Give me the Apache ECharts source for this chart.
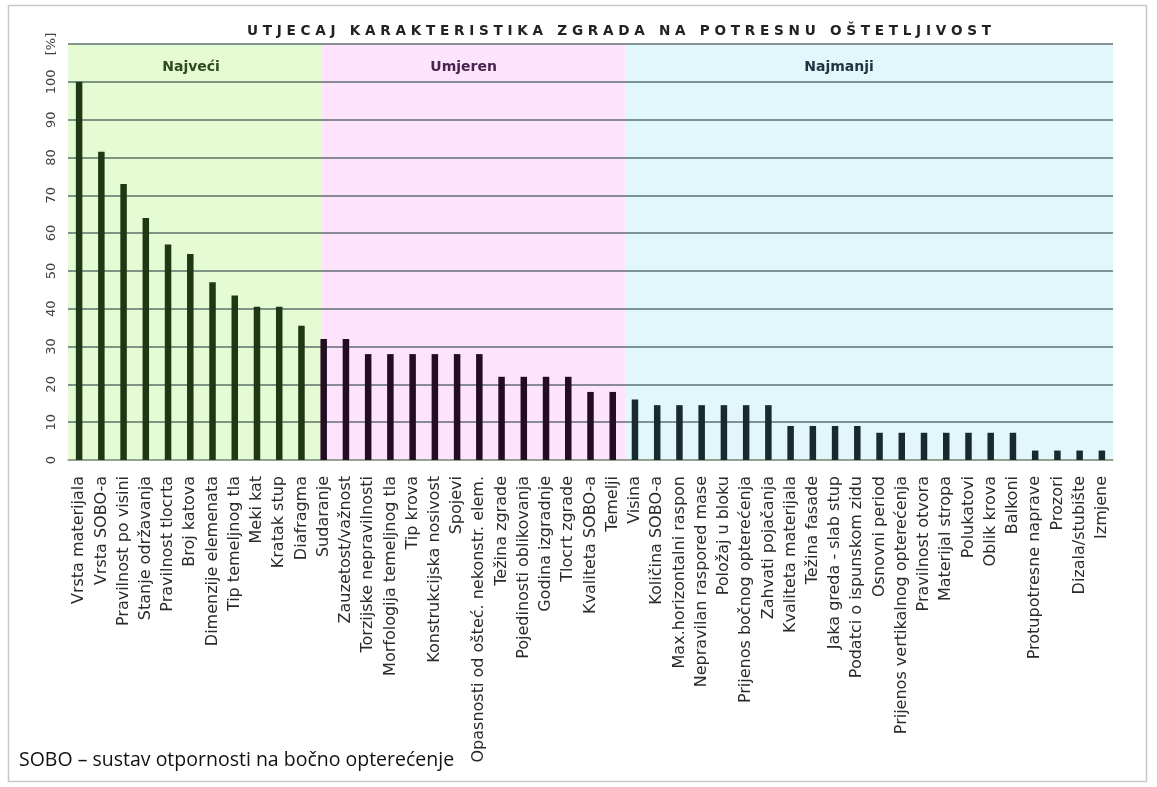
<!DOCTYPE html>
<html>
<head>
<meta charset="utf-8">
<script src="https://cdn.jsdelivr.net/npm/echarts@6/dist/echarts.min.js"></script>
<style>
  html, body { margin: 0; padding: 0; background: #fff; }
  #container { width: 1157px; height: 787px; }
</style>
</head>
<body>
<div id="container"></div>
<script>
//初始化echarts
var dom = document.getElementById('container');
var myChart = echarts.init(dom, null, { renderer: 'canvas' });

//标题和数据
var myTitle = 'UTJECAJ KARAKTERISTIKA ZGRADA NA POTRESNU OŠTETLJIVOST';
var footNote = 'SOBO – sustav otpornosti na bočno opterećenje';

var categories = [
  'Vrsta materijala', 'Vrsta SOBO-a', 'Pravilnost po visini', 'Stanje održavanja',
  'Pravilnost tlocrta', 'Broj katova', 'Dimenzije elemenata', 'Tip temeljnog tla',
  'Meki kat', 'Kratak stup', 'Diafragma', 'Sudaranje',
  'Zauzetost/važnost', 'Torzijske nepravilnosti', 'Morfologija temeljnog tla', 'Tip krova',
  'Konstrukcijska nosivost', 'Spojevi', 'Opasnosti od ošteć. nekonstr. elem.', 'Težina zgrade',
  'Pojedinosti oblikovanja', 'Godina izgradnje', 'Tlocrt zgrade', 'Kvaliteta SOBO-a', 'Temelji',
  'Visina', 'Količina SOBO-a', 'Max.horizontalni raspon', 'Nepravilan raspored mase',
  'Položaj u bloku', 'Prijenos bočnog opterećenja', 'Zahvati pojačanja', 'Kvaliteta materijala',
  'Težina fasade', 'Jaka greda - slab stup', 'Podatci o ispunskom zidu', 'Osnovni period',
  'Prijenos vertikalnog opterećenja', 'Pravilnost otvora', 'Materijal stropa', 'Polukatovi',
  'Oblik krova', 'Balkoni', 'Protupotresne naprave', 'Prozori', 'Dizala/stubište', 'Izmjene'
];

var values = [
  100, 81.5, 73, 64, 57, 54.5, 47, 43.5, 40.5, 40.5, 35.5, 32,
  32, 28, 28, 28, 28, 28, 28, 22, 22, 22, 22, 18, 18,
  16, 14.5, 14.5, 14.5, 14.5, 14.5, 14.5, 9, 9, 9, 9, 7.2,
  7.2, 7.2, 7.2, 7.2, 7.2, 7.2, 2.5, 2.5, 2.5, 2.5
];

//三个区域
var bandNames = ['Najveći', 'Umjeren', 'Najmanji'];
var bandEdges = [0, 11.43, 25.06, 47];
var groupEnds = [11, 25, 47]; //每组柱子的结束索引

var yTicks = [0, 10, 20, 30, 40, 50, 60, 70, 80, 90, 100, '[%]'];

var bandColors = ['#e4fbd4', '#fde3fb', '#e2f7fc'];
var bandTextColors = ['#2f4a1c', '#4a2350', '#1d3440'];
var bandLabelShift = [[-4, 0], [-10, 0], [-30, 0]];
var barColors = ['#1e3812', '#230c24', '#182a2e'];

function groupOf(i) {
  for (var g = 0; g < groupEnds.length; g++) {
    if (i < groupEnds[g]) return g;
  }
  return groupEnds.length - 1;
}

function spaced(s) {
  return s.split(' ').map(function (w) { return w.split('').join(' '); }).join('   ');
}

var bandData = bandNames.map(function (name, i) {
  return [
    {
      name: name,
      xAxis: bandEdges[i],
      itemStyle: { color: bandColors[i] },
      label: { color: bandTextColors[i], offset: bandLabelShift[i] }
    },
    { xAxis: bandEdges[i + 1] }
  ];
});

var option = {
  animation: false,
  title: {
    text: spaced(myTitle),
    left: 614,
    textAlign: 'center',
    top: 19,
    textStyle: { fontFamily: 'DejaVu Sans', fontSize: 13.6, fontWeight: 'bold', color: '#222' }
  },
  grid: { left: 68, right: 44, top: 44, bottom: 327 },
  xAxis: [
    {
      type: 'category',
      data: categories,
      z: 5,
      axisLine: { lineStyle: { color: '#98a890', width: 1.5 } },
      axisTick: { length: 8, lineStyle: { color: '#98a890' } },
      axisLabel: {
        rotate: 90,
        interval: 0,
        margin: 16,
        fontFamily: 'DejaVu Sans',
        fontSize: 16,
        color: '#2a2a2a'
      }
    },
    { type: 'value', min: 0, max: 47, show: false }
  ],
  yAxis: {
    type: 'value',
    min: 0,
    max: 110,
    interval: 10,
    z: 2,
    axisLine: { show: false },
    axisTick: { show: false },
    splitLine: { lineStyle: { color: 'rgba(60,80,80,0.8)', width: 1.5 } },
    axisLabel: {
      rotate: 90,
      margin: 10,
      fontFamily: 'DejaVu Sans',
      fontSize: 13,
      color: '#444',
      formatter: function (v) { return yTicks[Math.round(v / 10)]; }
    }
  },
  graphic: [
    {
      type: 'rect',
      shape: { x: 8.5, y: 5.5, width: 1138, height: 776 },
      style: { fill: 'none', stroke: '#c8c8c8', lineWidth: 1.5 },
      z: -10
    },
    {
      type: 'text',
      left: 19,
      top: 750,
      style: { text: footNote, font: '19.5px "Open Sans"', fill: '#111' }
    }
  ],
  series: [
    {
      type: 'bar',
      xAxisIndex: 1,
      data: [],
      z: 1,
      silent: true,
      markArea: {
        silent: true,
        label: {
          show: true,
          position: 'insideTop',
          distance: 16,
          fontFamily: 'DejaVu Sans',
          fontSize: 14,
          fontWeight: 'bold'
        },
        data: bandData
      }
    },
    {
      type: 'bar',
      xAxisIndex: 0,
      data: values,
      barWidth: 6.5,
      z: 6,
      itemStyle: {
        color: function (p) { return barColors[groupOf(p.dataIndex)]; }
      }
    }
  ]
};

myChart.setOption(option);
window.addEventListener('resize', myChart.resize);
</script>
</body>
</html>
